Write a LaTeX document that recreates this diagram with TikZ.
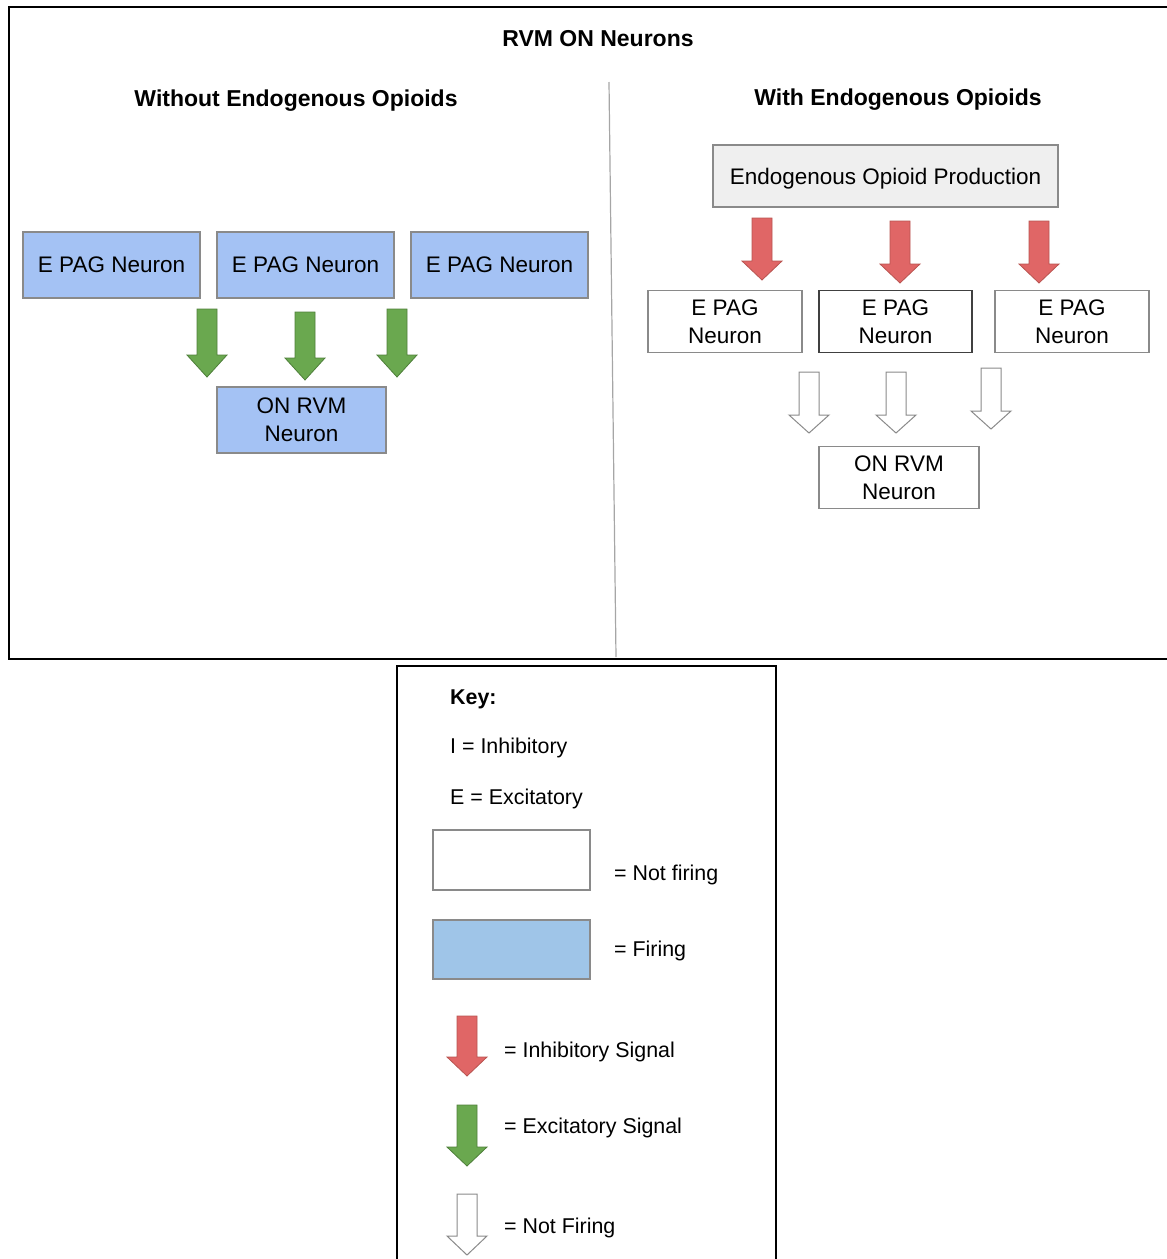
\documentclass[tikz,border=0pt]{standalone}
\usepackage{fontspec}
\setmainfont{Liberation Sans}
\definecolor{firingblue}{HTML}{A4C2F4}
\definecolor{keyblue}{HTML}{9FC5E8}
\definecolor{boxborder}{HTML}{8A8A8A}
\definecolor{sigred}{HTML}{E06666}
\definecolor{sigredb}{HTML}{B85450}
\definecolor{siggreen}{HTML}{6AA84F}
\definecolor{siggreenb}{HTML}{4E7F3A}
\definecolor{eopgray}{HTML}{EFEFEF}
\tikzset{
  txt/.style={font=\fontsize{22.5}{28}\selectfont, align=center, inner sep=0pt},
  keytxt/.style={font=\fontsize{21.4}{26}\selectfont, inner sep=0pt, anchor=west},
  ttl/.style={font=\fontsize{23}{28}\selectfont\bfseries, inner sep=0pt},
  neuronbox/.style={draw=boxborder, line width=1.2pt, inner sep=0pt, txt, text depth=0pt},
  firing/.style={neuronbox, fill=firingblue},
  notfiring/.style={neuronbox, fill=white},
  redsig/.style={fill=sigred, draw=sigredb, line width=0.8pt},
  greensig/.style={fill=siggreen, draw=siggreenb, line width=0.8pt},
  whitesig/.style={fill=white, draw=boxborder, line width=1pt},
  frame/.style={draw=black, line width=2pt},
}
% #1 style, #2 centre x, #3 top, #4 end of shaft, #5 tip
\newcommand{\sigarrow}[5]{%
  \draw[#1] ({#2-10},#3) -- ({#2+10},#3) -- ({#2+10},#4) -- ({#2+20},#4)
    -- (#2,#5) -- ({#2-20},#4) -- ({#2-10},#4) -- cycle;}
\begin{document}
\begin{tikzpicture}[x=1pt,y=-1pt]
\useasboundingbox (0,0) rectangle (1167,1259);
% frames
\draw[frame] (9,7) rectangle (1175,659);
\draw[frame] (397,666) rectangle (776,1270);
\draw[gray!70, line width=1.2pt] (609,82) -- (616,657);
% titles
\node[ttl] (title) at (598,39) {RVM ON Neurons};
\node[ttl] (ltitle) at (296,101) {Without Endogenous Opioids};
\node[ttl] (rtitle) at (898,100) {With Endogenous Opioids};
% left panel
\node[firing, minimum width=177pt, minimum height=66pt] (l1) at (111.5,265) {E PAG Neuron};
\node[firing, minimum width=177pt, minimum height=66pt] (l2) at (305.5,265) {E PAG Neuron};
\node[firing, minimum width=177pt, minimum height=66pt] (l3) at (499.5,265) {E PAG Neuron};
\node[firing, minimum width=169pt, minimum height=66pt] (lon) at (301.5,420) {ON RVM\\Neuron};
\sigarrow{greensig}{207}{309}{355}{377}
\sigarrow{greensig}{305}{312}{358}{380}
\sigarrow{greensig}{397}{309}{355}{377}
% right panel
\node[neuronbox, fill=eopgray, minimum width=345pt, minimum height=62pt] (eop) at (885.5,176) {Endogenous Opioid Production};
\node[notfiring, minimum width=154pt, minimum height=62pt] (r1) at (725,321.5) {E PAG\\Neuron};
\node[notfiring, draw=black!75, minimum width=153pt, minimum height=62pt] (r2) at (895.5,321.5) {E PAG\\Neuron};
\node[notfiring, minimum width=154pt, minimum height=62pt] (r3) at (1072,321.5) {E PAG\\Neuron};
\node[notfiring, minimum width=160pt, minimum height=62pt] (ron) at (899,477.5) {ON RVM\\Neuron};
\sigarrow{redsig}{762}{218}{261}{280}
\sigarrow{redsig}{900}{221}{264}{283}
\sigarrow{redsig}{1039}{221}{264}{283}
\sigarrow{whitesig}{809}{372}{415}{433}
\sigarrow{whitesig}{896}{372}{415}{433}
\sigarrow{whitesig}{991}{368}{411}{429}
% key
\node[ttl, anchor=west, font=\fontsize{21.4}{26}\selectfont\bfseries] (key) at (450,699) {Key:};
\node[keytxt] (k1) at (450,748) {I = Inhibitory};
\node[keytxt] (k2) at (450,799) {E = Excitatory};
\node[notfiring, minimum width=157pt, minimum height=60pt] (knf) at (511.5,860) {};
\node[keytxt] (k3) at (614,875) {= Not firing};
\node[neuronbox, fill=keyblue, minimum width=157pt, minimum height=59pt] (kf) at (511.5,949.5) {};
\node[keytxt] (k4) at (614,951) {= Firing};
\sigarrow{redsig}{467}{1016}{1057}{1076}
\node[keytxt] (k5) at (504,1052) {= Inhibitory Signal};
\sigarrow{greensig}{467}{1105}{1147}{1166}
\node[keytxt] (k6) at (504,1128) {= Excitatory Signal};
\sigarrow{whitesig}{467}{1194}{1236}{1255}
\node[keytxt] (k7) at (504,1228) {= Not Firing};
\end{tikzpicture}
\end{document}
